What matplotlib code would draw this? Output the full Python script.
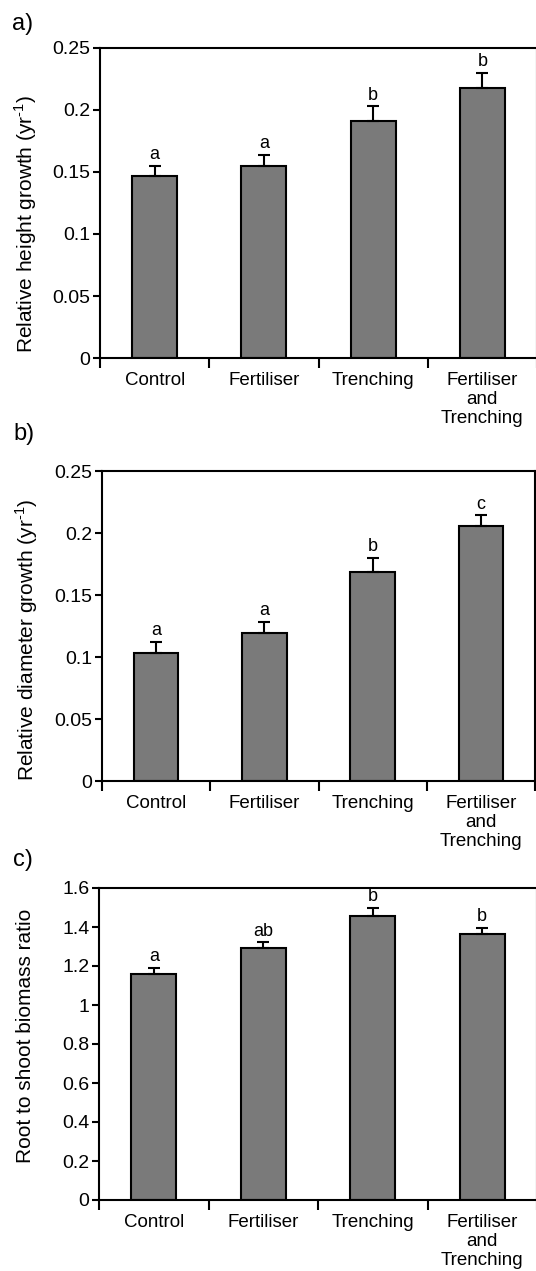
import numpy as np
import matplotlib
matplotlib.use("Agg")
import matplotlib.pyplot as plt

plt.rcParams['font.family'] = ['Liberation Sans', 'DejaVu Sans']
plt.rcParams['mathtext.fontset'] = 'custom'
plt.rcParams['mathtext.rm'] = 'Liberation Sans'

categories = ['Control', 'Fertiliser', 'Trenching', 'Fertiliser\nand\nTrenching']

height_growth = [0.147, 0.155, 0.191, 0.218]
height_err = [0.008, 0.009, 0.012, 0.012]
height_letters = ['a', 'a', 'b', 'b']

diam_growth = [0.103, 0.1195, 0.1685, 0.2055]
diam_err = [0.0095, 0.009, 0.0115, 0.009]
diam_letters = ['a', 'a', 'b', 'c']

root_shoot = [1.161, 1.294, 1.455, 1.366]
root_err = [0.031, 0.029, 0.043, 0.031]
root_letters = ['a', 'ab', 'b', 'b']

W, H = 536, 1271
fig = plt.figure(figsize=(W / 100, H / 100), dpi=100)


def px_axes(left, right, top, bottom):
    return fig.add_axes([left / W, 1 - bottom / H, (right - left) / W, (bottom - top) / H])


panels = [
    dict(box=(100, 537, 48, 358), vals=height_growth, err=height_err, letters=height_letters,
         ymax=0.25, yticks=[0, 0.05, 0.1, 0.15, 0.2, 0.25],
         yticklabels=['0', '0.05', '0.1', '0.15', '0.2', '0.25'],
         ylabel='Relative height growth (yr$^{\\mathregular{\u20101}}$)', ylab_pos=(26, 224),
         tag='a)', tag_pos=(12, 24)),
    dict(box=(102, 535, 471, 781), vals=diam_growth, err=diam_err, letters=diam_letters,
         ymax=0.25, yticks=[0, 0.05, 0.1, 0.15, 0.2, 0.25],
         yticklabels=['0', '0.05', '0.1', '0.15', '0.2', '0.25'],
         ylabel='Relative diameter growth (yr$^{\\mathregular{\u20101}}$)', ylab_pos=(27, 640),
         tag='b)', tag_pos=(13, 434)),
    dict(box=(99, 537, 888, 1200), vals=root_shoot, err=root_err, letters=root_letters,
         ymax=1.6, yticks=[0, 0.2, 0.4, 0.6, 0.8, 1, 1.2, 1.4, 1.6],
         yticklabels=['0', '0.2', '0.4', '0.6', '0.8', '1', '1.2', '1.4', '1.6'],
         ylabel='Root to shoot biomass ratio', ylab_pos=(26, 1036),
         tag='c)', tag_pos=(13, 860)),
]

x = np.arange(len(categories))
for p in panels:
    ax = px_axes(*p['box'])
    ax.bar(x, p['vals'], width=0.41, color='#7a7a7a', edgecolor='black', linewidth=1.5, zorder=2)
    ax.errorbar(x, p['vals'], yerr=[np.zeros(len(x)), p['err']], fmt='none', ecolor='black',
                elinewidth=1.5, capsize=4.5, capthick=1.5, zorder=3)
    off = p['ymax'] * 0.008
    for xi, v, e, t in zip(x, p['vals'], p['err'], p['letters']):
        ax.text(xi, v + e + off, t, ha='center', va='bottom', fontsize=13)
    ax.set_xlim(-0.5, len(x) - 0.5)
    ax.set_ylim(0, p['ymax'])
    ax.set_yticks(p['yticks'])
    ax.set_yticklabels(p['yticklabels'], fontsize=14)
    ax.set_xticks(x)
    ax.set_xticklabels(categories, fontsize=13.5, linespacing=1.15)
    ax.set_xticks(np.arange(len(x) + 1) - 0.5, minor=True)
    ax.tick_params(axis='x', which='major', length=0, pad=10)
    ax.tick_params(axis='x', which='minor', length=7, width=1.5, direction='out')
    ax.tick_params(axis='y', length=5, width=1.5, direction='out', pad=2)
    for s in ax.spines.values():
        s.set_linewidth(1.5)
    fig.text(p['ylab_pos'][0] / W, 1 - p['ylab_pos'][1] / H, p['ylabel'], rotation=90,
             ha='center', va='center', fontsize=15)
    fig.text(p['tag_pos'][0] / W, 1 - p['tag_pos'][1] / H, p['tag'], ha='left', va='center',
             fontsize=17)

fig.savefig('out.png', dpi=100)
